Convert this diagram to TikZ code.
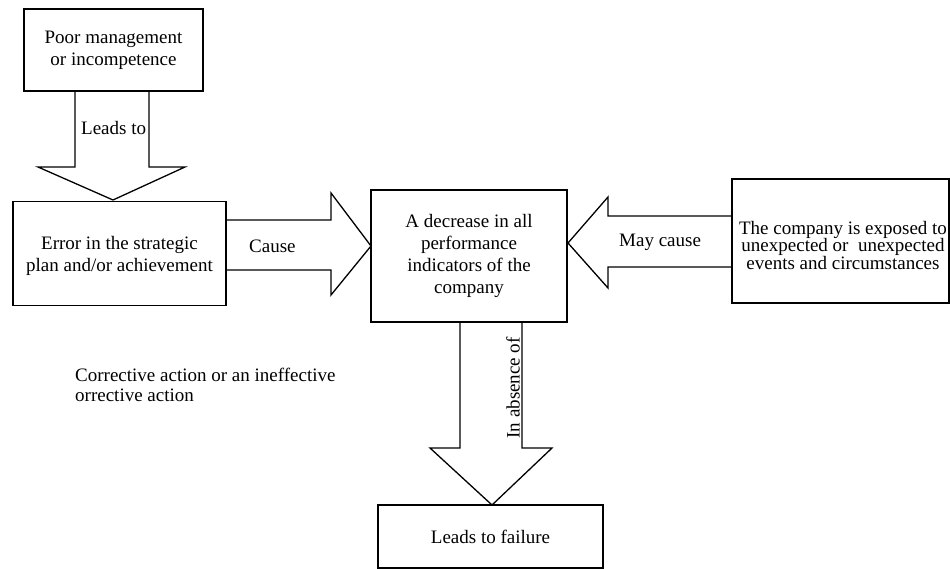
\documentclass[tikz,border=0pt]{standalone}
\usepackage{fontspec}
\setmainfont{Liberation Serif}
\begin{document}
\begin{tikzpicture}[x=1pt,y=-1pt,
  box/.style={draw,line width=1.3pt,inner sep=0pt,align=center,font=\fontsize{19}{22}\selectfont},
  blockarrow/.style={draw,line width=1.3pt,line join=miter},
  lbl/.style={inner sep=0pt,font=\fontsize{19}{22}\selectfont}]
\useasboundingbox (0,0) rectangle (950,569);
% boxes
\node[box,minimum width=179pt,minimum height=82pt] (b1) at (113.5,50) {Poor management\\or incompetence};
\node[box,minimum width=213pt,minimum height=104pt] (b2) at (119.5,253.5) {\\[-3pt]Error in the strategic\\plan and/or achievement};
\node[box,minimum width=196pt,minimum height=132pt] (b3) at (469,256) {A decrease in all\\performance\\indicators of the\\company};
\node[box,minimum width=217pt,minimum height=124pt] (b4) at (840.5,241) {};
\node[lbl,align=center,font=\fontsize{19}{17.5}\selectfont] (t4) at (843,245.5) {The company is exposed to\\unexpected or\ \ unexpected\\events and circumstances};
\node[box,minimum width=225pt,minimum height=63pt] (b5) at (490.5,536.5) {Leads to failure};
% block arrows
\draw[blockarrow] (75,91) -- (75,167) -- (38,167) -- (113,200) -- (185,167) -- (149,167) -- (149,91);
\draw[blockarrow] (226,220) -- (331,220) -- (331,193) -- (371,246) -- (331,295) -- (331,270) -- (226,270);
\draw[blockarrow] (732,216) -- (608,216) -- (608,197) -- (568,243) -- (608,288) -- (608,267) -- (732,267);
\draw[blockarrow] (460,322) -- (460,448) -- (430,448) -- (492,505) -- (552,448) -- (522,448) -- (522,322);
% labels
\node[lbl,anchor=west] (l1) at (81,128) {Leads to};
\node[lbl,anchor=west] (l2) at (249,246) {Cause};
\node[lbl,anchor=west] (l3) at (619,242) {May cause};
\node[lbl,rotate=90,anchor=south east] (l4) at (520,337) {In absence of};
\node[lbl,anchor=north west,align=left,font=\fontsize{19}{20}\selectfont] (l5) at (75,368) {Corrective action or an ineffective\\orrective action};
\end{tikzpicture}
\end{document}
